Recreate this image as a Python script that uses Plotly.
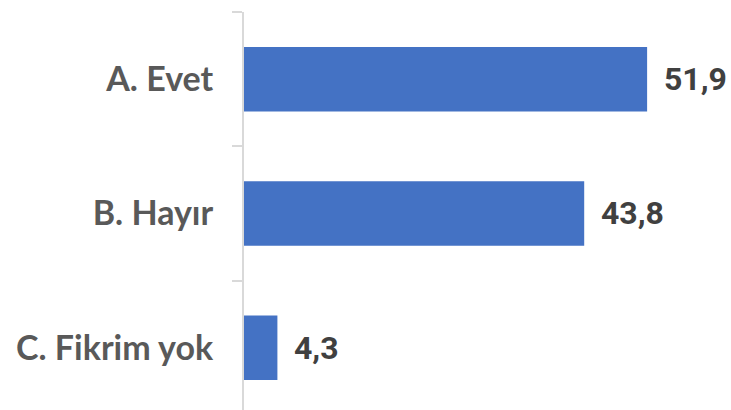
import plotly.graph_objects as go

categories = ["A. Evet", "B. Hayır", "C. Fikrim yok"]
values = [51.9, 43.8, 4.3]
value_labels = [f"{v:.1f}".replace(".", ",") for v in values]

fig = go.Figure()
fig.add_trace(go.Bar(
    x=values, y=categories, orientation="h",
    marker=dict(color="#4472C4", line=dict(width=0)),
    hoverinfo="skip",
))
for cat, v, lab in zip(categories, values, value_labels):
    fig.add_annotation(
        x=v, y=cat, text=lab, showarrow=False, xanchor="left", yanchor="middle",
        xshift=15, font=dict(family="Roboto", size=32, color="#404040", weight="bold"),
    )

fig.update_layout(
    width=731, height=410,
    margin=dict(l=244, r=0, t=12, b=0),
    paper_bgcolor="white", plot_bgcolor="white",
    bargap=0.52, showlegend=False,
    xaxis=dict(visible=False, range=[0, 62.7], automargin=False),
    yaxis=dict(
        type="category", range=[2.463, -0.5], automargin=False,
        showline=True, linecolor="#d9d9d9", linewidth=2,
        ticks="outside", ticklen=10, tickwidth=2, tickcolor="#d9d9d9",
        tickson="boundaries", ticklabelstandoff=22,
        showgrid=False, zeroline=False,
        tickfont=dict(family="Lato", size=34, color="#595959", weight="bold"),
    ),
)
fig.write_html(
    "out.html",
    config={"displayModeBar": False},
    post_script="document.body.style.margin='0';document.body.style.padding='0';",
)
